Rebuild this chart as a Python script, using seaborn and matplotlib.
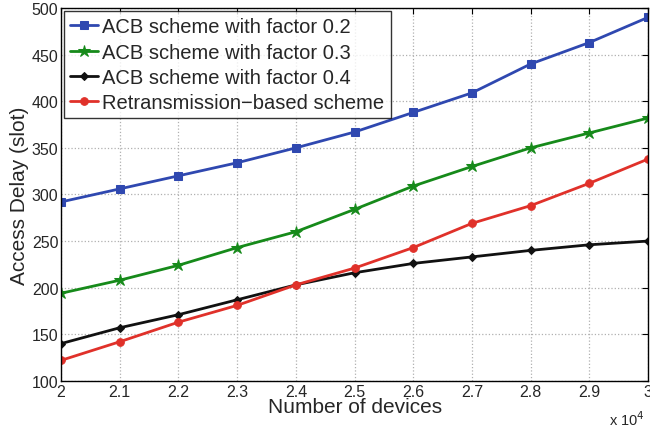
import matplotlib
matplotlib.use("Agg")
import matplotlib.pyplot as plt
import seaborn as sns
import pandas as pd
from matplotlib.ticker import FuncFormatter, MultipleLocator

devices = [20000, 21000, 22000, 23000, 24000, 25000, 26000, 27000, 28000, 29000, 30000]
acb02 = [292, 306, 320, 334, 350, 367, 388, 409, 440, 463, 490]
acb03 = [194, 208, 224, 243, 260, 284, 309, 330, 350, 366, 382]
acb04 = [140, 157, 171, 187, 203, 216, 226, 233, 240, 246, 250]
retx = [122, 142, 163, 181, 203, 221, 243, 269, 288, 312, 338]
names = ["ACB scheme with factor 0.2", "ACB scheme with factor 0.3",
         "ACB scheme with factor 0.4", "Retransmission\u2212based scheme"]

sns.set_style("white")
plt.rcParams['font.family'] = ['Liberation Sans', 'DejaVu Sans']

fig = plt.figure(figsize=(6.5, 4.31), dpi=100)
ax = fig.add_axes([0.094, 0.114, 0.903, 0.865])

series = [acb02, acb03, acb04, retx]
colors = ['#2f48b0', '#168a1a', '#111111', '#e0312a']
markers = ['s', '*', 'D', 'o']
msizes = [5.5, 9, 4.5, 5.5]
for name, vals, c, m, ms in zip(names, series, colors, markers, msizes):
    df = pd.DataFrame({"x": devices, "y": vals})
    sns.lineplot(data=df, x="x", y="y", ax=ax, color=c, marker=m, markersize=ms,
                 markeredgecolor=c, linewidth=2, label=name)

ax.set_xlim(20000, 30000)
ax.set_ylim(100, 500)
ax.xaxis.set_major_locator(MultipleLocator(1000))
ax.yaxis.set_major_locator(MultipleLocator(50))
ax.xaxis.set_major_formatter(FuncFormatter(lambda v, p: f"{v/1e4:g}"))
ax.grid(True, linestyle=':', color='#b0b0b0', linewidth=0.9)
ax.tick_params(axis='both', labelsize=11.5, direction='in', length=4, color='black', pad=2)
ax.tick_params(top=True, right=True)
for s in ax.spines.values():
    s.set_color('black')
    s.set_linewidth(1.0)
ax.set_xlabel("Number of devices", fontsize=15, labelpad=-1)
ax.set_ylabel("Access Delay (slot)", fontsize=15, labelpad=2)
fig.text(0.965, 0.005, "x 10$^4$", fontsize=10.5, ha='center', va='bottom')

leg = ax.legend(loc='upper left', fontsize=14.5, frameon=True, fancybox=False,
                edgecolor='black', borderpad=0.3, labelspacing=0.32, handlelength=1.4,
                handletextpad=0.2, borderaxespad=0.15)
leg.get_frame().set_linewidth(1.0)

fig.savefig("out.png", dpi=100)
